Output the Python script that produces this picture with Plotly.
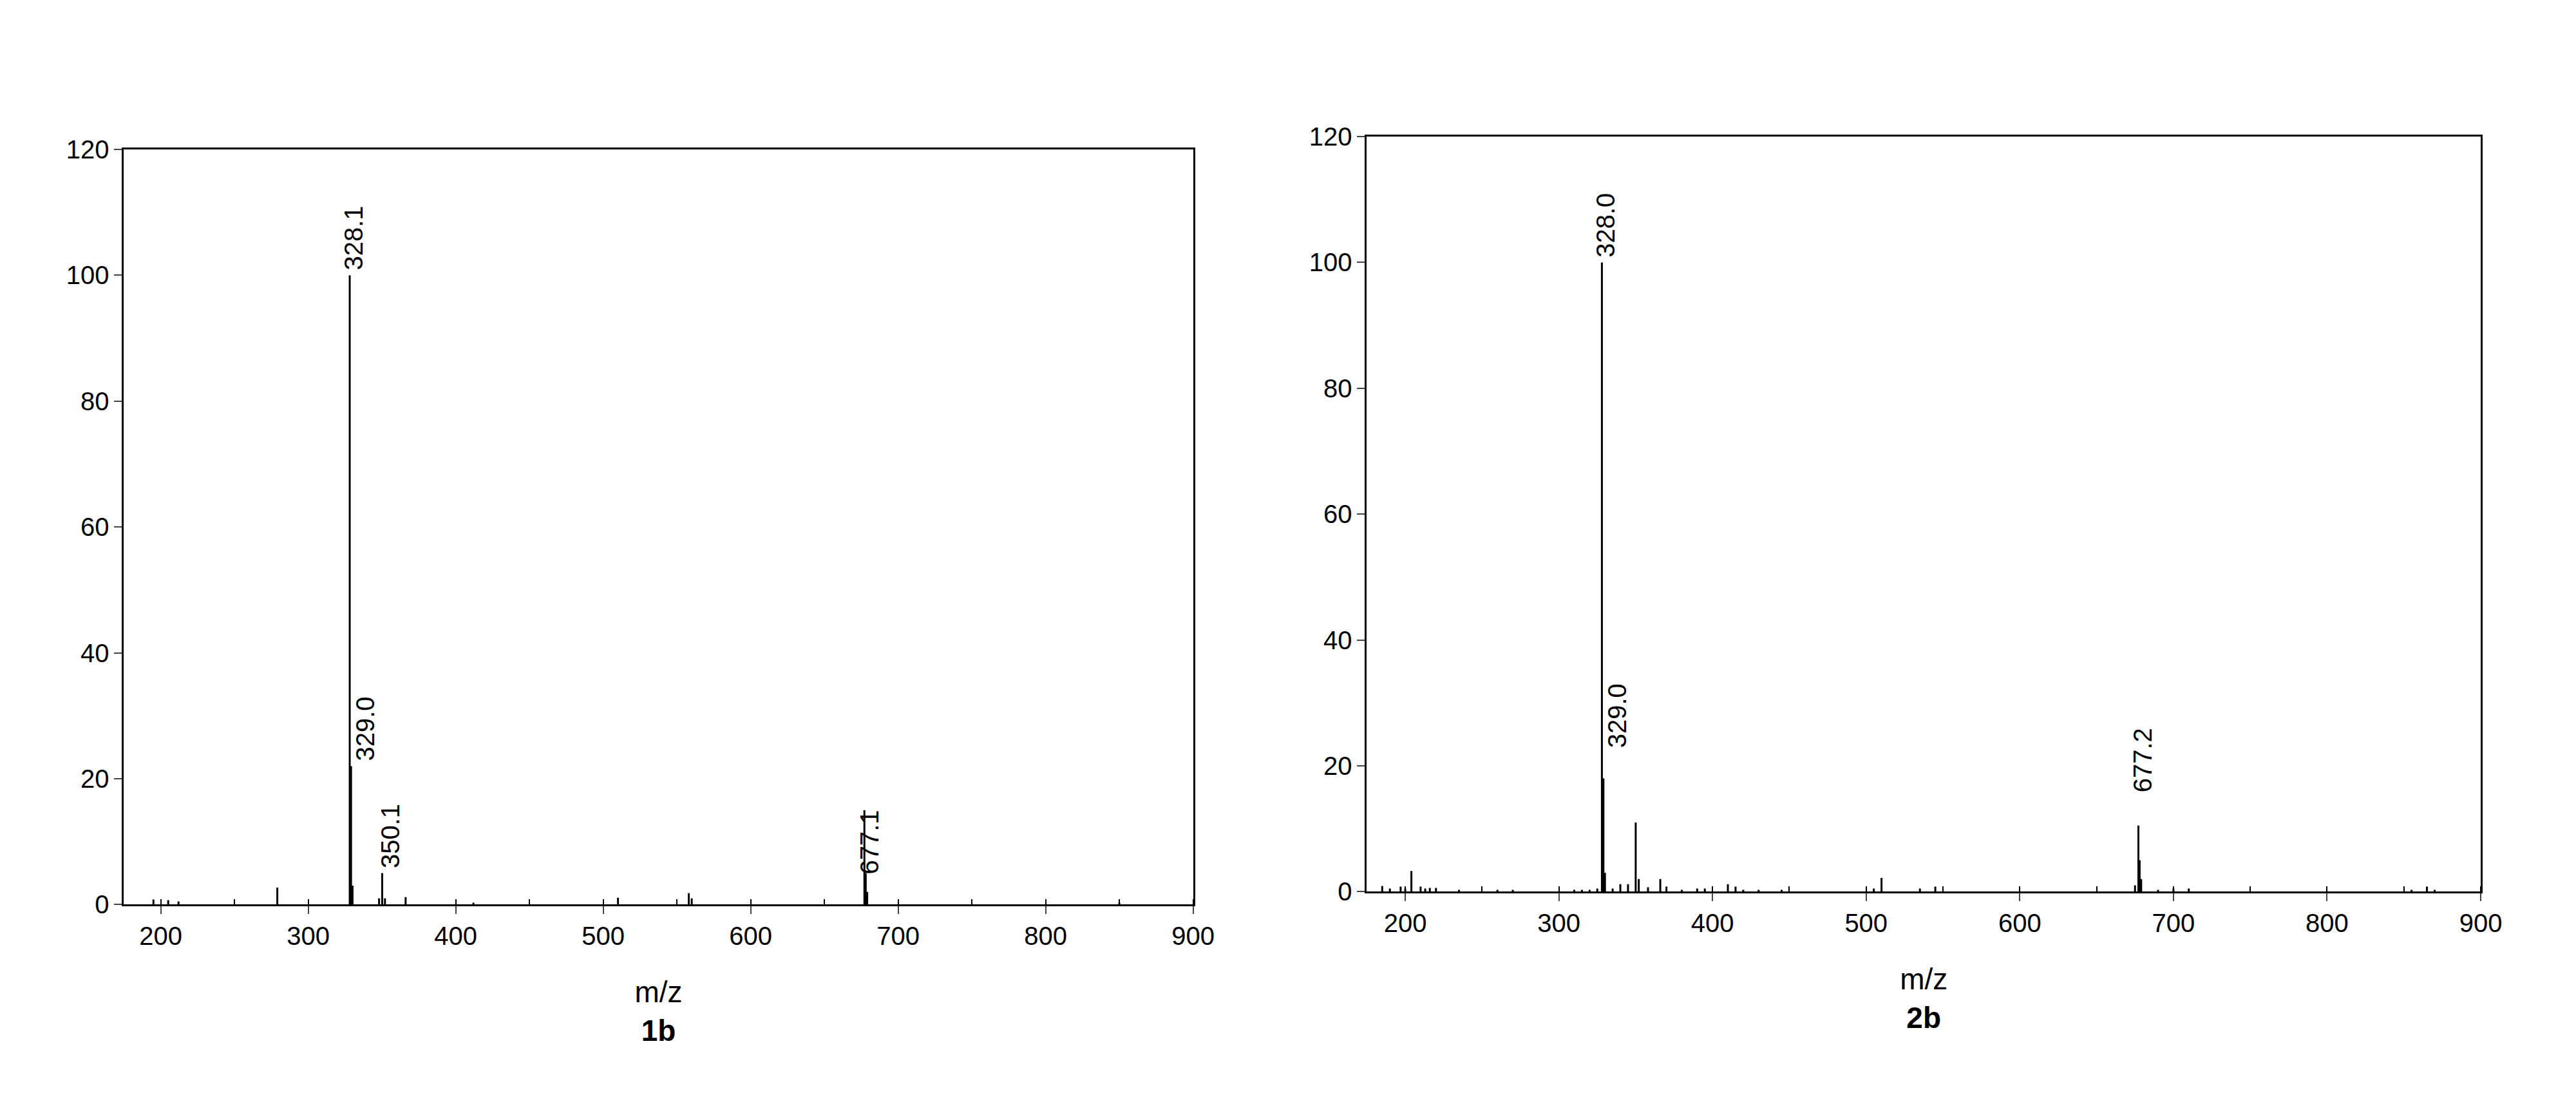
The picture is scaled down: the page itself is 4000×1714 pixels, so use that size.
import plotly.graph_objects as go

mz1 = [195, 205, 212, 279, 328.1, 329.0, 330, 348, 350.1, 352, 366, 412, 510, 558, 560, 677.1, 678, 679, 850]
in1 = [0.8, 0.7, 0.5, 2.7, 100, 22, 3, 1, 5, 1, 1.2, 0.3, 1.1, 1.8, 1.0, 15, 5, 2, 0.3]
lab1 = [(328.1, 100, "328.1", 0), (329.0, 22, "329.0", 16), (350.1, 5, "350.1", 6), (677.1, 4, "677.1", 2)]

mz2 = [185, 190, 197, 200, 204, 210, 213, 216, 220, 235, 260, 270, 310, 315, 320, 325, 328.0, 329.0, 330,
       335, 340, 345, 350, 352, 358, 366, 370, 380, 390, 395, 410, 415, 420, 430, 445, 505, 510, 535, 545,
       675, 677.2, 678, 679, 690, 700, 710, 855, 865, 870]
in2 = [0.9, 0.5, 0.8, 0.5, 3.3, 0.8, 0.5, 0.6, 0.6, 0.3, 0.3, 0.3, 0.3, 0.3, 0.3, 0.5, 100, 18, 3,
       0.5, 1.2, 1.2, 11, 2, 0.7, 2, 0.8, 0.3, 0.5, 0.5, 1.2, 0.8, 0.3, 0.3, 0.3, 0.5, 2.2, 0.5, 0.8,
       1, 10.5, 5, 2, 0.3, 0.5, 0.5, 0.3, 0.8, 0.3]
lab2 = [(328.0, 100, "328.0", 0), (329.0, 22, "329.0", 16), (677.2, 15, "677.2", 0)]

yticks = [0, 20, 40, 60, 80, 100, 120]
xticks = [200, 300, 400, 500, 600, 700, 800, 900]

def stems(mz, inten):
    xs, ys = [], []
    for m, v in zip(mz, inten):
        xs += [m, m, None]
        ys += [0, v, None]
    return xs, ys

fig = go.Figure()
font = dict(family="Liberation Sans, Arial", size=40, color="black")
for i, (mz, inten, labs) in enumerate([(mz1, in1, lab1), (mz2, in2, lab2)], start=1):
    xs, ys = stems(mz, inten)
    fig.add_trace(go.Scatter(x=xs, y=ys, mode="lines", line=dict(color="black", width=3),
                             xaxis=f"x{i}", yaxis=f"y{i}", showlegend=False, hoverinfo="skip"))
    for x, y, t, sh in labs:
        fig.add_annotation(x=x, y=y, text=t, textangle=-90, xref=f"x{i}", yref=f"y{i}",
                           showarrow=False, yanchor="bottom", xanchor="center", xshift=sh + 6, yshift=6,
                           font=font)

tfont = dict(family="Liberation Sans, Arial", size=46, color="black")
ax = dict(range=[175, 900], tickvals=xticks, ticks="outside", ticklen=12, tickwidth=2, showline=True,
          linecolor="black", linewidth=3, mirror=True, showgrid=False, zeroline=False, tickfont=font,
          minor=dict(dtick=50, ticks="inside", ticklen=8, tickcolor="black"))
ay = dict(range=[0, 120], tickvals=yticks, ticks="outside", ticklen=12, tickwidth=2, showline=True,
          linecolor="black", linewidth=3, mirror=True, showgrid=False, zeroline=False, tickfont=font)

x1 = dict(ax); x1["domain"] = [0.0465, 0.465]; x1["anchor"] = "y1"
x1["title"] = dict(text="m/z<br><b>1b</b>", font=tfont, standoff=50)
x2 = dict(ax); x2["domain"] = [0.533, 0.969]; x2["anchor"] = "y2"
x2["title"] = dict(text="m/z<br><b>2b</b>", font=tfont, standoff=50)
y1 = dict(ay); y1["domain"] = [0.177, 0.879]; y1["anchor"] = "x1"
y2 = dict(ay); y2["domain"] = [0.189, 0.891]; y2["anchor"] = "x2"

fig.update_layout(width=4000, height=1714, margin=dict(l=0, r=0, t=0, b=0),
                  paper_bgcolor="white", plot_bgcolor="white",
                  xaxis=x1, xaxis2=x2, yaxis=y1, yaxis2=y2)
fig.write_html("out.html")
